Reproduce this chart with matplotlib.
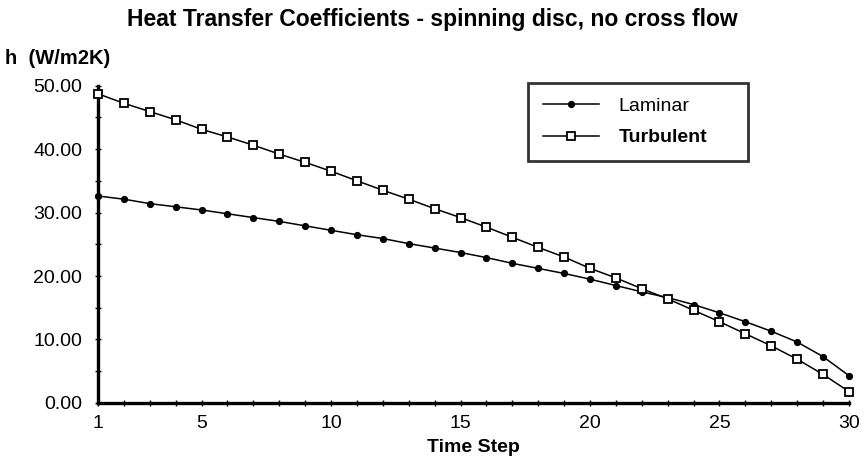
import matplotlib
matplotlib.use("Agg")
import matplotlib.pyplot as plt
import numpy as np

plt.rcParams['font.family'] = ['Liberation Sans', 'DejaVu Sans']

# Heat transfer coefficient h (W/m2K) per time step
time_steps = list(range(1, 31))
laminar = [32.6, 32.1, 31.4, 30.9, 30.4, 29.8, 29.2, 28.6, 27.9, 27.2,
           26.5, 25.9, 25.1, 24.4, 23.7, 22.9, 22.0, 21.2, 20.4, 19.5,
           18.5, 17.5, 16.6, 15.5, 14.2, 12.8, 11.3, 9.6, 7.3, 4.3]
turbulent = [48.7, 47.2, 45.9, 44.6, 43.1, 41.9, 40.6, 39.2, 37.9, 36.5,
             35.0, 33.5, 32.1, 30.6, 29.2, 27.7, 26.1, 24.5, 23.0, 21.2,
             19.7, 18.0, 16.4, 14.6, 12.8, 10.9, 9.0, 6.9, 4.5, 1.8]
x_tick_labels = [1, 5, 10, 15, 20, 25, 30]
y_ticks = [0, 10, 20, 30, 40, 50]

fig = plt.figure(figsize=(8.64, 4.63), dpi=100)
ax = fig.add_axes([0.1134, 0.1296, 0.8692, 0.6857])

ax.plot(time_steps, laminar, color='black', lw=1.1, marker='o',
        markersize=4.2, markerfacecolor='black', markeredgecolor='black',
        label='Laminar', clip_on=False, zorder=3)
ax.plot(time_steps, turbulent, color='black', lw=1.1, marker='s',
        markersize=5.6, markerfacecolor='white', markeredgecolor='black',
        markeredgewidth=1.3, label='Turbulent', clip_on=False, zorder=3)

ax.set_xlim(1, 30)
ax.set_ylim(0, 50)

ax.set_xticks(x_tick_labels)
ax.set_xticklabels([str(v) for v in x_tick_labels])
ax.set_xticks(time_steps, minor=True)
ax.set_yticks(y_ticks)
ax.set_yticklabels([f"{v:.2f}" for v in y_ticks])
ax.set_yticks(np.arange(0, 51, 5), minor=True)

for side in ('top', 'right'):
    ax.spines[side].set_visible(False)
for side in ('left', 'bottom'):
    ax.spines[side].set_linewidth(2.4)

ax.tick_params(which='both', direction='inout', length=5, width=1.0,
               labelsize=14)
ax.tick_params(axis='y', pad=9)
ax.tick_params(axis='x', pad=6)

ax.set_xlabel('Time Step', fontsize=14, fontweight='bold', labelpad=5)

fig.text(0.5, 0.958, 'Heat Transfer Coefficients - spinning disc, no cross flow',
         ha='center', va='center', fontsize=16.5, fontweight='bold')
fig.text(0.006, 0.873, 'h  (W/m2K)', ha='left', va='center',
         fontsize=14.5, fontweight='bold')

leg = ax.legend(loc='upper left', bbox_to_anchor=(0.5726, 0.768, 0.293, 0.24),
                mode='expand', fontsize=14, frameon=True, fancybox=False,
                handlelength=2.9, handletextpad=1.0, labelspacing=0.7,
                borderpad=0.75, borderaxespad=0.0, numpoints=1)
leg.get_frame().set_edgecolor('black')
leg.get_frame().set_linewidth(2.0)
leg.get_texts()[1].set_fontweight('bold')

fig.savefig('out.png', dpi=100)
